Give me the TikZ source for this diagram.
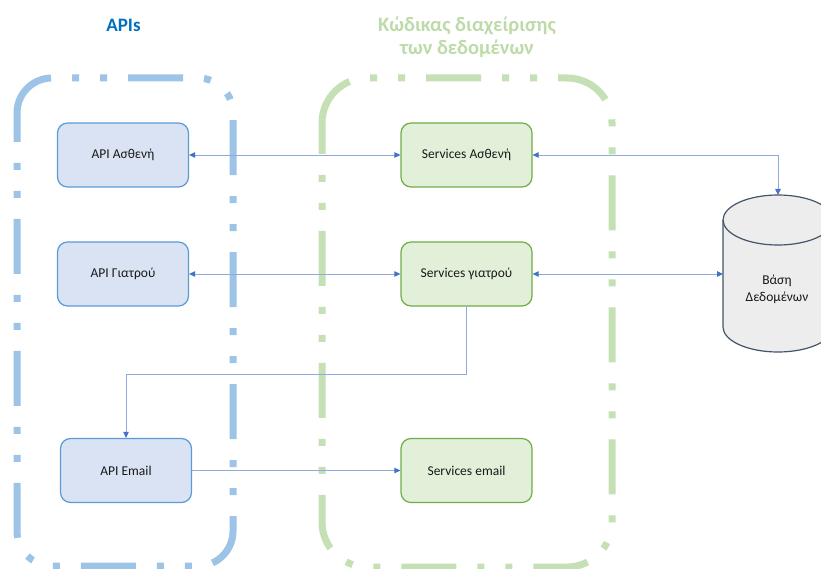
\documentclass[tikz,border=0pt]{standalone}
\usepackage{fontspec}
\setmainfont{Carlito}
\usetikzlibrary{arrows.meta,calc}
\definecolor{grpblue}{HTML}{9DC3E6}
\definecolor{grpgreen}{HTML}{C5E0B4}
\definecolor{titleblue}{HTML}{0070C0}
\definecolor{titlegreen}{HTML}{BDDBA8}
\definecolor{apifill}{HTML}{DAE3F3}
\definecolor{apiline}{HTML}{5B9BD5}
\definecolor{svcfill}{HTML}{E2F0D9}
\definecolor{svcline}{HTML}{70AD47}
\definecolor{linkline}{HTML}{8FAADC}
\definecolor{linktip}{HTML}{4472C4}
\definecolor{dbfill}{HTML}{EDEDED}
\definecolor{dbline}{HTML}{44546A}
\tikzset{
  group/.style={line width=7pt,
    dash pattern=on 55pt off 21pt on 7pt off 21pt on 7pt off 21pt},
  boxbase/.style={line width=1.2pt, rounded corners=10pt,
    minimum width=131pt, minimum height=64pt,
    font=\fontsize{13.5}{16}\selectfont, text=black!90},
  apibox/.style={boxbase, draw=apiline, fill=apifill},
  svcbox/.style={boxbase, draw=svcline, fill=svcfill},
  title/.style={font=\fontsize{19}{22}\selectfont\bfseries, align=center},
  link/.style={draw=linkline, line width=0.9pt},
}
\begin{document}
\begin{tikzpicture}[x=1pt, y=-1pt,
  >={Triangle[length=6pt, width=5.5pt, color=linktip]}]
\useasboundingbox (0,0) rectangle (821,569);
\clip (0,0) rectangle (821,569);

% group outlines (open paths, so the dash pattern starts at the top-left corner)
\draw[group, draw=grpblue, rounded corners=35pt]
  (17,114) -- (17,78) -- (233,78) -- (233,566) -- (17,566) -- (17,114);
\draw[group, draw=grpgreen, rounded corners=45pt]
  (322,125.3) -- (322,78) -- (612,78) -- (612,567) -- (322,567) -- (322,125.3);

% group titles
\node[title, text=titleblue] (apititle) at (123.5,25) {APIs};
\node[title, text=titlegreen, font=\fontsize{20.5}{23}\selectfont\bfseries]
  (svctitle) at (467,37) {Κώδικας διαχείρισης\\των δεδομένων};

% database cylinder
\filldraw[fill=dbfill, draw=dbline, line width=1.2pt]
  (723,220) -- (723,327)
  arc[start angle=180, end angle=0, x radius=55, y radius=25]
  -- (833,220)
  arc[start angle=0, end angle=-180, x radius=55, y radius=25] -- cycle;
\draw[dbline, line width=1.2pt]
  (723,220) arc[start angle=180, end angle=0, x radius=55, y radius=25];
\node[font=\fontsize{13.5}{17}\selectfont, text=black!90, align=center]
  (dbname) at (777,289) {Βάση\\Δεδομένων};
\coordinate (dbtop) at (778,195);
\coordinate (dbleft) at (723,274);

% API layer
\node[apibox] (apiasth) at (123,155) {API Ασθενή};
\node[apibox] (apigiat) at (123,274) {API Γιατρού};
\node[apibox] (apiemail) at (126,470.5) {API Email};

% service layer
\node[svcbox] (svcasth) at (466.5,155) {Services Ασθενή};
\node[svcbox] (svcgiat) at (466.5,274) {Services γιατρού};
\node[svcbox] (svcemail) at (466.5,470.5) {Services email};

% connectors
\draw[link, <->] (apiasth.east) -- (svcasth.west);
\draw[link, <->] (svcasth.east) -| (dbtop);
\draw[link, <->] (apigiat.east) -- (svcgiat.west);
\draw[link, <->] (svcgiat.east) -- (dbleft);
\draw[link, ->] (svcgiat.south) -- ++(0,68) -| (apiemail.north);
\draw[link, ->] (apiemail.east) -- (svcemail.west);
\end{tikzpicture}
\end{document}
